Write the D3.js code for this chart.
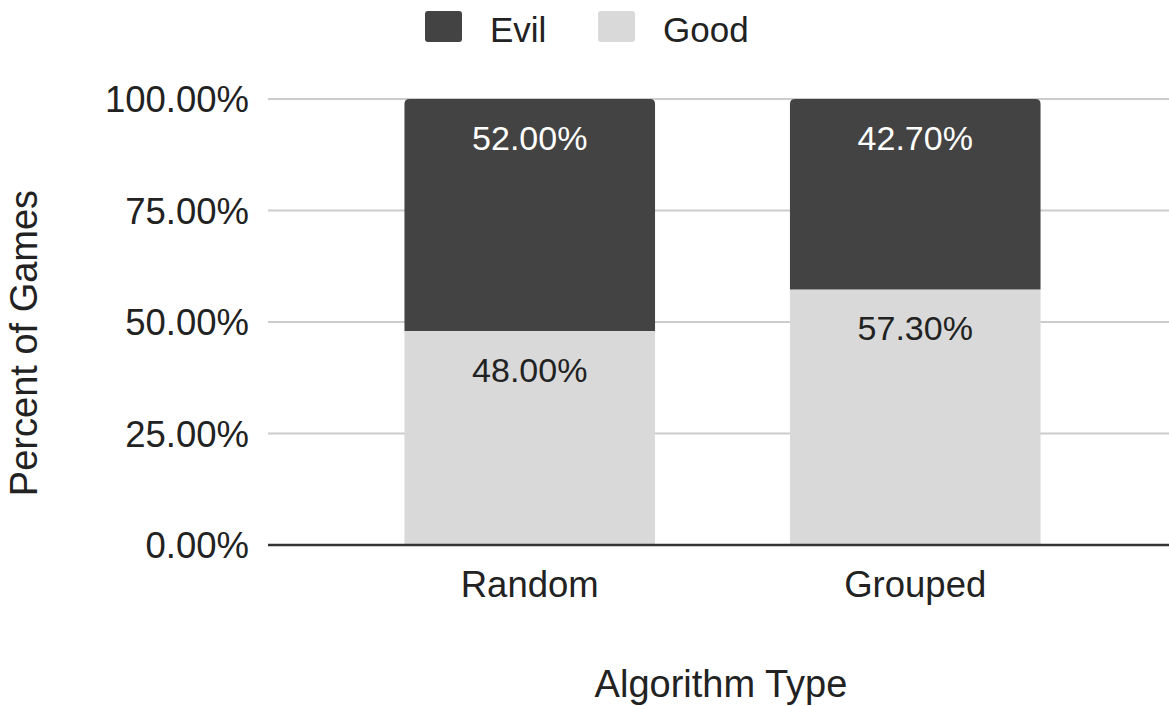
<!DOCTYPE html>
<html>
<head>
<meta charset="utf-8">
<script src="https://cdn.jsdelivr.net/npm/d3@7"></script>
<style>
  html, body { margin: 0; padding: 0; background: #fff; }
  svg { display: block; font-family: Arial, "Liberation Sans", sans-serif; }
</style>
</head>
<body>
<svg id="chart" width="1169" height="706"></svg>
<script>
// Share of games won by each side, per team-assignment algorithm
const categories = ["Random", "Grouped"];
const goodShare = [0.48, 0.573];
const evilShare = [0.52, 0.427];
const seriesNames = ["Evil", "Good"];
const yTicks = [0, 0.25, 0.5, 0.75, 1.0];

const colors = { Evil: "#434343", Good: "#d9d9d9" };
const labelColors = { Evil: "#ffffff", Good: "#222222" };

const svg = d3.select("#chart");

const y = d3.scaleLinear().domain([0, 1]).range([545, 99]);
const x = d3.scaleBand().domain(categories).range([337, 1108])
  .paddingInner(0.35).paddingOuter(0.175);

const plotLeft = 268, plotRight = 1169;
const pct = d3.format(".2%");

// Gridlines
svg.append("g").selectAll("line")
  .data(yTicks.filter(d => d > 0))
  .join("line")
  .attr("x1", plotLeft).attr("x2", plotRight)
  .attr("y1", d => y(d)).attr("y2", d => y(d))
  .attr("stroke", "#cccccc").attr("stroke-width", 2);

// Y axis tick labels
svg.append("g").selectAll("text")
  .data(yTicks)
  .join("text")
  .attr("x", 249)
  .attr("y", d => y(d) + 13)
  .attr("text-anchor", "end")
  .attr("font-size", 36.5)
  .attr("fill", "#222")
  .text(d => pct(d));

// Stacked data
const rows = categories.map((c, i) => ({ cat: c, Good: goodShare[i], Evil: evilShare[i] }));
const stack = d3.stack().keys(["Good", "Evil"]);
const layers = stack(rows);

// Rounded-top rectangle path for the top segment
function topRounded(x0, y0, w, h, r) {
  return `M${x0},${y0 + h} V${y0 + r} Q${x0},${y0} ${x0 + r},${y0} H${x0 + w - r} Q${x0 + w},${y0} ${x0 + w},${y0 + r} V${y0 + h} Z`;
}

layers.forEach(layer => {
  const key = layer.key;
  const isTop = key === "Evil";
  const g = svg.append("g");
  layer.forEach(seg => {
    const cat = seg.data.cat;
    const x0 = x(cat), w = x.bandwidth();
    const yTop = y(seg[1]), yBot = y(seg[0]);
    if (isTop) {
      g.append("path")
        .attr("d", topRounded(x0, yTop, w, yBot - yTop, 5))
        .attr("fill", colors[key]);
    } else {
      g.append("rect")
        .attr("x", x0).attr("y", yTop)
        .attr("width", w).attr("height", yBot - yTop)
        .attr("fill", colors[key]);
    }
    g.append("text")
      .attr("x", x0 + w / 2)
      .attr("y", yTop + 51)
      .attr("text-anchor", "middle")
      .attr("font-size", 34)
      .attr("fill", labelColors[key])
      .text(pct(seg[1] - seg[0]));
  });
});

// Baseline
svg.append("line")
  .attr("x1", plotLeft).attr("x2", plotRight)
  .attr("y1", y(0)).attr("y2", y(0))
  .attr("stroke", "#333333").attr("stroke-width", 2.5);

// X axis category labels
svg.append("g").selectAll("text")
  .data(categories)
  .join("text")
  .attr("x", d => x(d) + x.bandwidth() / 2)
  .attr("y", 597)
  .attr("text-anchor", "middle")
  .attr("font-size", 36.5)
  .attr("fill", "#222")
  .text(d => d);

// Axis titles
svg.append("text")
  .attr("x", 721).attr("y", 697)
  .attr("text-anchor", "middle")
  .attr("font-size", 38)
  .attr("fill", "#222")
  .text("Algorithm Type");

svg.append("text")
  .attr("transform", "translate(37,343) rotate(-90)")
  .attr("text-anchor", "middle")
  .attr("font-size", 38)
  .attr("fill", "#222")
  .text("Percent of Games");

// Legend
const legendX = [425, 598];
const legend = svg.append("g").selectAll("g")
  .data(seriesNames)
  .join("g")
  .attr("transform", (d, i) => `translate(${legendX[i]},0)`);
legend.append("rect")
  .attr("x", 0).attr("y", 11)
  .attr("width", 37).attr("height", 31)
  .attr("rx", 3)
  .attr("fill", d => colors[d]);
legend.append("text")
  .attr("x", 65).attr("y", 42)
  .attr("font-size", 35)
  .attr("fill", "#222")
  .text(d => d);
</script>
</body>
</html>
